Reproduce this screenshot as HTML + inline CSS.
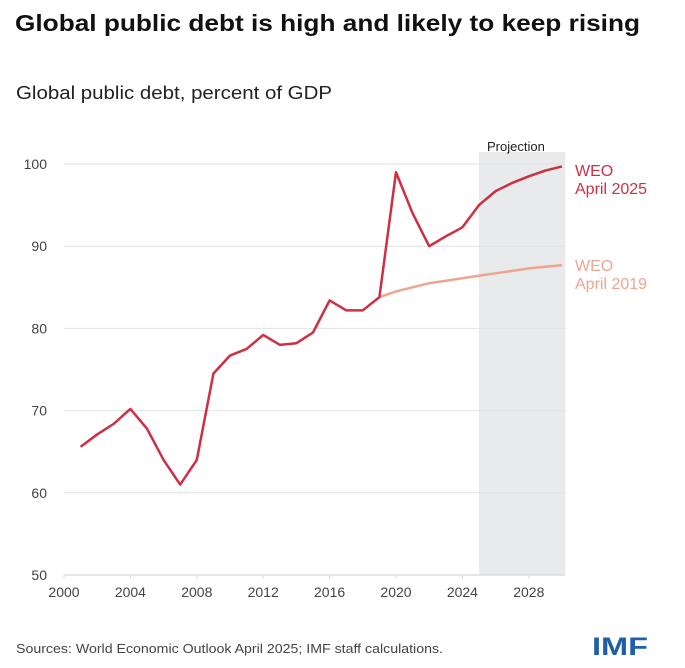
<!DOCTYPE html>
<html><head><meta charset="utf-8"><style>
body{margin:0;background:#fff;width:685px;height:668px;overflow:hidden;font-family:"Liberation Sans",sans-serif;}
svg{display:block}
</style></head><body>
<svg width="685" height="668">
<text x="15" y="31" font-size="23" font-weight="bold" fill="#111" textLength="625" lengthAdjust="spacingAndGlyphs">Global public debt is high and likely to keep rising</text>
<text x="16" y="99" font-size="18" fill="#222" textLength="316" lengthAdjust="spacingAndGlyphs">Global public debt, percent of GDP</text>
<g id="plot"></g>
<text x="16" y="653" font-size="13" fill="#444" textLength="427" lengthAdjust="spacingAndGlyphs">Sources: World Economic Outlook April 2025; IMF staff calculations.</text>
<text x="592" y="655" font-size="25" font-weight="bold" fill="#1f5fa8" textLength="56" lengthAdjust="spacingAndGlyphs">IMF</text>
</svg>
<script>
const years2025=[2001,2002,2003,2004,2005,2006,2007,2008,2009,2010,2011,2012,2013,2014,2015,2016,2017,2018,2019,2020,2021,2022,2023,2024,2025,2026,2027,2028,2029,2030];
const weo2025=[65.6,67.1,68.4,70.2,67.8,64,61,64,74.5,76.7,77.5,79.2,78,78.2,79.5,83.4,82.2,82.2,83.8,99,94,90,91.2,92.3,95,96.7,97.7,98.5,99.2,99.7];
const years2019=[2019,2020,2021,2022,2023,2024,2025,2026,2027,2028,2029,2030];
const weo2019=[83.8,84.5,85,85.5,85.8,86.1,86.4,86.7,87,87.3,87.5,87.7];
const yTicks=[50,60,70,80,90,100];
const xTicks=[2000,2004,2008,2012,2016,2020,2024,2028];
const NS="http://www.w3.org/2000/svg";
const g=document.getElementById('plot');
const x=v=>64+(v-2000)*16.6;
const y=v=>575-(v-50)*8.22;
function mk(t,a){const e=document.createElementNS(NS,t);for(const k in a)e.setAttribute(k,a[k]);g.appendChild(e);return e;}
const sh=mk('rect',{x:x(2025),y:152,width:x(2030.2)-x(2025),height:423,fill:'#e9eaec'});


const pt=mk('text',{x:x(2025)+8,y:151,'font-size':13,fill:'#222'});pt.textContent='Projection';


yTicks.forEach(v=>{
 if(v>50){const l=mk('line',{x1:64,x2:x(2030.2),y1:y(v),y2:y(v),stroke:'#e2e2e2','stroke-width':1});
 
 }
 const t=mk('text',{x:47,y:y(v)+5,'font-size':14,fill:'#444','text-anchor':'end'});t.textContent=v;
 
 
});
const ax=mk('line',{x1:64,x2:x(2030.2),y1:575,y2:575,stroke:'#ddd','stroke-width':1.5});


xTicks.forEach(v=>{
 mk('line',{x1:x(v),x2:x(v),y1:575,y2:579,stroke:'#ddd'});
 const t=mk('text',{x:x(v),y:597,'font-size':14,fill:'#444','text-anchor':'middle'});t.textContent=v;
 
 
});
const p19=mk('polyline',{points:years2019.map((v,i)=>x(v)+','+y(weo2019[i])).join(' '),fill:'none',stroke:'#eea58f','stroke-width':2.5});


const p25=mk('polyline',{points:years2025.map((v,i)=>x(v)+','+y(weo2025[i])).join(' '),fill:'none',stroke:'#cf2f44','stroke-width':2.5,'stroke-linejoin':'round'});


[['WEO',176,'#cf2f44'],['April 2025',194,'#cf2f44'],['WEO',271,'#eea58f'],['April 2019',289,'#eea58f']].forEach((d,i)=>{
 const t=mk('text',{x:575,y:d[1],'font-size':16,fill:d[2]});t.textContent=d[0];
 
 
});
</script>
</body></html>
